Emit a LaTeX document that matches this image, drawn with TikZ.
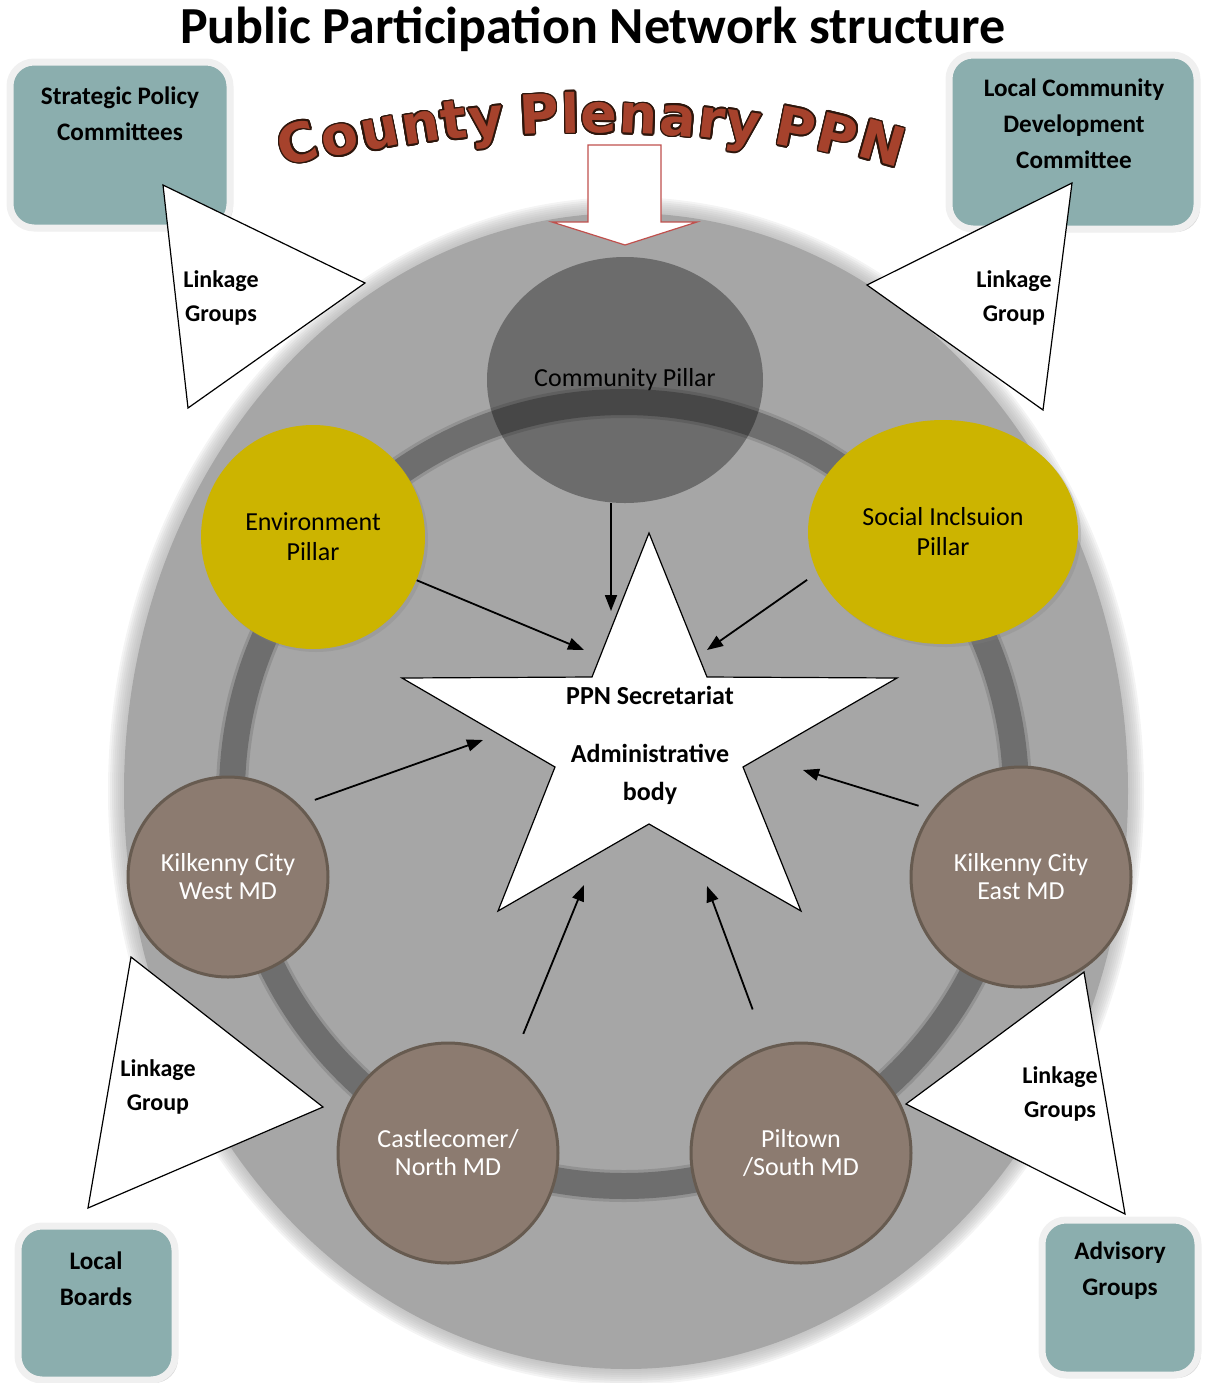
\documentclass[tikz,border=0pt]{standalone}
\usepackage{fontspec}
\setmainfont{Carlito}
\newfontfamily\heavyfont{DejaVu Sans}
\usepackage{contour}
\usepackage{tikz}
\usetikzlibrary{positioning,shapes.geometric,arrows.meta,shadows}
\contourlength{0.8pt}

\definecolor{bigGrey}{RGB}{166,166,166}
\definecolor{ringGrey}{RGB}{110,110,110}
\definecolor{pillarYellow}{RGB}{204,180,0}
\definecolor{mdBrown}{RGB}{140,123,112}
\definecolor{mdBorder}{RGB}{103,91,80}
\definecolor{boxTeal}{RGB}{139,174,174}
\definecolor{boxEdge}{RGB}{240,240,240}
\definecolor{rust}{RGB}{166,66,44}
\definecolor{rustEdge}{RGB}{192,80,77}
\definecolor{darkEdge}{RGB}{45,22,12}

\tikzset{
  pillar/.style={circle,fill=pillarYellow,minimum size=112pt,inner sep=0pt,align=center,
    font=\fontsize{13}{15}\selectfont,drop shadow={opacity=0.25,shadow xshift=1.5pt,shadow yshift=-1.5pt}},
  mdcircle/.style={circle,fill=mdBrown,draw=mdBorder,line width=1.5pt,minimum size=110pt,
    inner sep=0pt,align=center,text=white,font=\fontsize{13}{14}\selectfont},
  arr/.style={-{Triangle[length=8pt,width=6pt]},line width=0.9pt},
  linktri/.style={draw=black,fill=white,line width=0.6pt},
  linktext/.style={font=\bfseries\fontsize{12}{17}\selectfont,align=center},
  ppnbox/.style={draw=boxEdge,line width=3.5pt,fill=boxTeal,rounded corners=12pt,
    drop shadow={opacity=0.3,shadow xshift=1.5pt,shadow yshift=-1.5pt}},
  boxtext/.style={font=\bfseries\fontsize{12.6}{18}\selectfont,align=center},
  plenary/.style={text=rust,inner sep=0pt,font=\heavyfont\bfseries\fontsize{27}{30}\selectfont}
}

\begin{document}
\begin{tikzpicture}[x=0.5pt,y=-0.5pt]
  \useasboundingbox (0,0) rectangle (1205,1383);

  % plenary disc with soft edge
  \foreach \d in {16,14,...,2}
    \fill[bigGrey,opacity=0.12] (626,791) ellipse [x radius=502+\d,y radius=578+\d];
  \fill[bigGrey] (626,791) ellipse [x radius=502,y radius=578];
  \draw[ringGrey,line width=16pt,opacity=0.35] (624,794) circle [radius=392];
  \draw[ringGrey,line width=13pt] (624,794) circle [radius=392];

  % pillars
  \node[ellipse,fill=black,fill opacity=0.35,text opacity=1,minimum width=138pt,minimum height=123pt,
    font=\fontsize{13}{15}\selectfont] (com) at (625,380) {Community Pillar};
  \node[pillar] (env) at (313,537) {Environment\\Pillar};
  \node[pillar,ellipse,minimum width=135pt,minimum height=112pt] (soc) at (943,532) {Social Inclsuion\\Pillar};

  % municipal districts
  \node[mdcircle,minimum size=100pt] (west) at (228,877) {Kilkenny City\\West MD};
  \node[mdcircle] (east) at (1021,877) {Kilkenny City\\East MD};
  \node[mdcircle] (north) at (448,1153) {Castlecomer/\\North MD};
  \node[mdcircle] (south) at (801,1153) {Piltown\\/South MD};

  % secretariat
  \draw[fill=white,line width=0.6pt] (649,533) -- (707,677) -- (897,678) -- (743,767) -- (801,911)
    -- (649,824) -- (498,911) -- (555,767) -- (402,678) -- (592,677) -- cycle;
  \node[font=\bfseries\fontsize{13}{19}\selectfont,align=center] (sec) at (650,745)
    {PPN Secretariat\\[10pt]Administrative\\body};

  \coordinate (hCom) at (611,611);
  \coordinate (hEnv) at (584,650);
  \coordinate (hSoc) at (707,650);
  \coordinate (hWest) at (483,740);
  \coordinate (hEast) at (803,770);
  \coordinate (hNorth) at (584,885);
  \coordinate (hSouth) at (707,886);
  \draw[arr] (com.south -| hCom) -- (hCom);
  \draw[arr] (env) -- (hEnv);
  \draw[arr,shorten <=6pt] (soc.-162) -- (hSoc);
  \draw[arr,shorten <=8pt] (west.45) -- (hWest);
  \draw[arr,shorten <=7pt] (east.143) -- (hEast);
  \draw[arr,shorten <=15pt] (north.55) -- (hNorth);
  \draw[arr,shorten <=20pt] (south.108) -- (hSouth);

  % block arrow from the plenary
  \draw[rustEdge,fill=white,line width=0.6pt] (588,145) -- (661,145) -- (661,222) -- (697,222)
    -- (625,245) -- (552,222) -- (588,222) -- cycle;

  % outside bodies
  \draw[ppnbox] (10,62) rectangle (230,228);
  \node[boxtext] (spc) at (120,114) {Strategic Policy\\Committees};
  \draw[ppnbox] (949,55) rectangle (1197,229);
  \node[boxtext] (lcdc) at (1074,124) {Local Community\\Development\\Committee};
  \draw[ppnbox] (18,1226) rectangle (175,1380);
  \node[boxtext] (lb) at (96,1279) {Local\\Boards};
  \draw[ppnbox] (1042,1220) rectangle (1198,1375);
  \node[boxtext] (ag) at (1120,1271) {Advisory\\Groups};

  % linkage groups
  \draw[linktri] (163,185) -- (365,283) -- (188,408) -- cycle;
  \node[linktext] (lgTL) at (221,298) {Linkage\\Groups};
  \draw[linktri] (1072,183) -- (867,285) -- (1043,410) -- cycle;
  \node[linktext] (lgTR) at (1014,298) {Linkage\\Group};
  \draw[linktri] (131,957) -- (323,1107) -- (88,1208) -- cycle;
  \node[linktext] (lgBL) at (158,1087) {Linkage\\Group};
  \draw[linktri] (1084,972) -- (906,1104) -- (1125,1214) -- cycle;
  \node[linktext] (lgBR) at (1060,1094) {Linkage\\Groups};

  % titles
  \node[font=\bfseries\fontsize{26}{30}\selectfont] (title) at (593,29) {Public Participation Network structure};
  \foreach \ch/\px [count=\i] in {C/303,o/344,u/383,n/423,t/456,y/488,P/540,l/571,e/599,n/638,a/677,r/710,y/741,P/792,P/833,N/877}{
    \pgfmathsetmacro{\py}{133+0.00035*(\px-590)*(\px-590)}
    \pgfmathsetmacro{\rot}{-1.4*atan(0.0007*(\px-590))}
    \node[plenary,rotate=\rot,anchor=base] (cp\i) at (\px,\py) {\contour{darkEdge}{\ch}};
  }
\end{tikzpicture}
\end{document}
